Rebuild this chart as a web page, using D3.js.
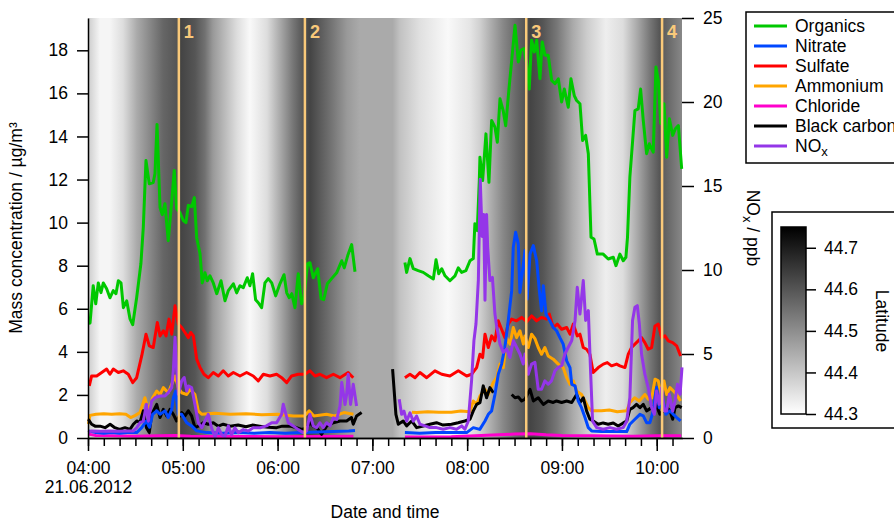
<!DOCTYPE html>
<html>
<head>
<meta charset="utf-8">
<script src="https://cdn.jsdelivr.net/npm/d3@7"></script>
<style>
  body { margin: 0; background: #fff; }
  text { font-family: "Liberation Sans", Arial, sans-serif; }
</style>
</head>
<body>
<svg id="chart" width="894" height="524"></svg>
<script>
// minutes after 04:00 on 21.06.2012, value; null = gap in the record
const organics = [[0.5,5.3],[1.3,5.35],[3.3,7.07],[4.9,6.23],[6.5,7.2],[8.2,6.75],[9.7,7.2],[11.8,6.93],[13.9,6.51],[16,6.84],[17.7,6.7],[19.2,7.3],[20.9,7.2],[22.4,6.05],[24.5,6.37],[26.6,5.53],[28.3,5.26],[30.8,6.51],[33.5,8.1],[35,9.77],[36.7,12.88],[38.8,11.8],[41.3,11.86],[42.4,12.28],[43.7,14.56],[45.6,10.7],[47,10.37],[48.7,10.88],[50.8,9.16],[53,11.0],[54.6,12.42],[56.1,10.65],[58.2,10.47],[60.3,10.1],[62,10.0],[63.5,10.8],[65.6,10.74],[67.3,11.16],[68.8,9.3],[70.9,8.56],[72.3,7.2],[74,7.67],[75.5,7.3],[77.2,7.53],[79.3,7.2],[81.5,6.7],[84.2,7.3],[86.7,6.37],[88.8,6.84],[92,7.16],[94.1,6.74],[96.2,7.07],[98.3,6.98],[100.8,7.44],[102.5,7.07],[104.2,7.63],[106.1,6.42],[107.8,6.28],[109.9,6.05],[112,7.2],[114.1,7.4],[116.3,7.2],[118.8,6.6],[121.5,7.16],[124.1,7.58],[125.8,6.74],[127.4,6.51],[129,6.7],[131,6.05],[133.1,7.63],[135.2,6.23],[136.7,6.51],[139,8.1],[140.5,8.14],[142.6,7.44],[145.4,7.86],[147.5,6.47],[149.2,6.42],[151.5,7.16],[154.2,7.4],[157.4,7.67],[160.6,8.23],[162.2,7.9],[164.4,8.47],[166.9,8.98],[169,7.72],
  null,
  [200.6,8.15],[201.7,7.69],[203.8,8.33],[205.9,7.86],[209,7.77],[212.2,7.69],[215.4,7.53],[218.6,7.38],[220.3,8.28],[222,7.63],[223.9,7.86],[226,7.53],[229.1,7.3],[232.3,7.53],[234.4,7.9],[236.5,7.69],[239.2,7.77],[241.8,8.23],[243.9,8.33],[244.9,9.95],[246.4,9.63],[247.7,11.95],[248.1,13.04],[249.8,11.95],[251.9,14.12],[253.8,11.87],[255.5,14.74],[257.6,14.43],[259.1,13.73],[260.8,15.75],[262.8,15.2],[264.4,14.5],[266.6,16.3],[268.2,17.53],[270.3,19.16],[272.4,17.46],[274,18.0],[276,18.08],[277.7,17.38],[279.3,16.2],[280.8,18.47],[282.5,17.92],[284,18.47],[286.1,16.68],[287.5,18.39],[289.3,17.77],[291.3,17.77],[293.5,16.6],[295.6,16.45],[297.7,16.68],[299.8,15.6],[301.5,16.2],[304,15.36],[305.7,16.68],[307.8,15.9],[309.3,15.67],[311.4,15.52],[313.1,13.81],[315,14.05],[316.7,13.2],[318.4,9.32],[320.3,9.24],[322.4,8.54],[326.1,8.54],[329.3,8.31],[332.5,8.39],[334.2,8.0],[336.7,8.54],[338.8,8.23],[340.5,8.39],[341.5,9.32],[343,12.1],[346.2,15.2],[348.3,15.28],[349.8,16.2],[351.5,14.74],[353.6,13.2],[355.3,13.66],[357.8,13.27],[359.5,17.22],[361,16.6],[362.5,14.6],[364.6,15.52],[366.3,13.04],[368,14.82],[370.1,14.05],[371.8,14.36],[373.7,14.51],[375.8,12.5]];

const nitrate = [[0.3,0.33],[5,0.25],[10,0.22],[15,0.25],[20,0.22],[25,0.25],[30.8,0.25],[34,0.48],[37,0.79],[39,0.5],[40.9,1.1],[43.5,1.26],[45.6,1.1],[48.7,1.26],[50.8,0.95],[53,1.33],[54,1.87],[55.5,2.18],[57.2,1.1],[59.3,1.1],[62.5,0.71],[65.6,0.56],[68.8,0.33],[75,0.25],[85,0.22],[95,0.25],[105,0.22],[115,0.25],[125,0.22],[135,0.25],[145,0.28],[155,0.3],[165,0.33],[169,0.35],
  null,
  [200.6,0.25],[210,0.22],[220,0.25],[230,0.25],[239.7,0.25],[243.9,0.48],[248,0.4],[251.3,0.79],[253.4,1.1],[255.5,1.26],[257.6,2.02],[259.7,2.96],[261.8,3.43],[263.9,4.2],[266,5.44],[268.2,6.84],[269.2,8.85],[270.7,9.55],[272.4,9.0],[273.4,6.76],[275.1,7.77],[276.6,8.7],[278,6.45],[279.8,8.54],[281.9,8.93],[284,8.23],[285.7,6.84],[287.1,5.9],[288.2,7.07],[289.9,5.75],[292.4,5.44],[294.5,5.13],[296.6,4.98],[298.7,4.66],[300.8,4.36],[303,3.58],[305.1,3.27],[306.2,2.49],[308.3,2.42],[310.3,1.72],[312.4,1.41],[314.6,0.95],[316.7,0.48],[318.8,0.33],[325,0.3],[333,0.3],[341,0.3],[343,0.64],[346.2,0.87],[349.4,1.1],[351.5,1.03],[353.6,0.71],[355.7,0.71],[357.8,1.26],[359.9,2.34],[361.6,1.41],[363.7,1.87],[365.8,1.1],[368.4,1.26],[370.5,1.1],[372.6,0.95],[375.1,0.79]];

const sulfate = [[0.8,2.42],[2.3,2.88],[5.5,2.88],[8.7,3.04],[11.8,3.2],[13.9,2.96],[16,3.2],[19.2,3.04],[22.3,3.12],[25.5,2.96],[28.3,2.57],[30.8,2.8],[34,3.81],[36.7,4.82],[38.8,4.28],[41.3,4.2],[43.9,5.36],[45.6,4.74],[47.7,4.98],[49.4,4.74],[51.3,5.52],[53,4.82],[55.1,6.14],[57.2,5.29],[59.3,5.13],[61.4,4.9],[63.5,4.66],[65,4.9],[66.7,4.74],[68.8,3.66],[70.9,3.27],[73.4,2.96],[76.1,2.8],[79.3,3.04],[82.5,2.88],[85.6,3.12],[88.8,2.88],[92,3.04],[96.2,2.88],[100.4,3.04],[104.6,2.88],[107.8,2.65],[111,2.96],[115.2,2.88],[119.4,2.96],[122.6,2.8],[125.8,2.57],[128.9,2.88],[133.1,2.96],[137.3,2.96],[140.5,3.12],[143.7,2.88],[146.8,2.96],[151,2.8],[155.3,2.96],[159.5,2.8],[164.7,3.04],[167.9,2.8],
  null,
  [200.6,2.8],[203.8,2.96],[207,2.8],[210.1,3.04],[214.4,2.8],[219.6,3.12],[223.9,2.96],[229.1,2.88],[234.4,3.12],[239.7,2.88],[242.8,2.96],[246,3.27],[248.1,3.89],[249.8,3.73],[251.3,4.82],[253.4,4.2],[255.5,4.74],[257.6,4.51],[259.7,5.44],[261.8,5.05],[263.9,4.66],[266,5.29],[268.2,5.52],[271.3,5.44],[274.5,5.6],[277.7,5.4],[280.8,5.67],[284,5.44],[287.1,5.6],[290.3,5.52],[292,5.75],[294.5,5.13],[297,5.29],[299.8,5.05],[303,5.13],[305.1,4.82],[307.2,5.29],[309.7,4.74],[311.4,4.82],[313.5,4.2],[315.6,4.12],[317.7,3.89],[319.8,3.04],[323,3.27],[326.2,3.43],[328.7,3.5],[331.4,3.35],[334.6,3.43],[336.7,3.35],[339.9,3.27],[342,3.89],[344.1,4.2],[346.2,4.36],[348.3,4.51],[350.4,4.66],[352.5,4.43],[354.6,4.12],[356.8,4.2],[358.9,5.2],[361,5.29],[363.1,4.66],[365.2,4.74],[367.3,4.51],[370.1,4.43],[372.6,4.28],[375.1,3.81]];

const ammonium = [[0.3,0.65],[1.2,1.05],[5,1.1],[10,1.13],[15,1.1],[20,1.13],[24,1.1],[27,0.95],[30,1.05],[32.9,1.18],[36,1.87],[38.2,1.26],[40.9,1.87],[43.5,2.18],[45.6,2.02],[47.7,2.34],[50.8,2.1],[53,2.49],[55.1,2.88],[57.2,2.34],[59.3,2.1],[62.5,2.02],[64.6,2.26],[67.7,2.02],[69.8,1.26],[72,1.1],[80,1.15],[90,1.1],[100,1.13],[110,1.08],[120,1.1],[130,1.02],[137,1.02],[140,1.26],[143,1.02],[151,1.1],[156,1.02],[162,1.18],[168,1.1],
  null,
  [205,1.2],[208,1.18],[215,1.22],[222,1.2],[230,1.2],[236,1.25],[241.8,1.22],[243.9,1.72],[246,1.56],[248.1,1.95],[251.3,2.26],[253.4,2.02],[256.5,2.57],[258.7,2.8],[260.8,3.43],[262.9,3.27],[265,4.66],[267.1,4.36],[269.2,5.13],[271.3,4.66],[273.4,4.98],[275.6,4.36],[276.6,4.74],[278.7,4.2],[280.8,4.82],[283,4.6],[285,4.2],[287.1,3.89],[289.2,4.2],[291.3,3.81],[294.5,3.66],[297.7,3.43],[300.8,3.27],[303,2.8],[305.1,2.49],[307.2,2.65],[309.3,2.18],[312.4,2.02],[314.6,1.72],[316.7,1.41],[318.8,1.26],[325,1.26],[330,1.3],[335,1.22],[341,1.26],[343,1.64],[346,1.87],[349,1.72],[352.5,2.02],[354.6,1.8],[356.8,1.85],[358.9,2.73],[361,2.65],[363.1,1.87],[364.6,2.65],[366.3,2.02],[368.4,2.34],[370.5,2.18],[372.6,2.02],[375.1,1.72]];

const chloride = [[0.3,0.18],[5,0.12],[15,0.1],[30,0.08],[45,0.1],[55,0.12],[65,0.08],[90,0.07],[120,0.06],[150,0.07],[168,0.08],
  null,
  [200.6,0.05],[230,0.06],[245,0.1],[260,0.15],[270,0.18],[280,0.2],[290,0.15],[300,0.12],[320,0.1],[345,0.08],[360,0.1],[375.5,0.1]];

const blackCarbon = [[0.2,0.87],[2.3,0.64],[4.5,0.55],[7.6,0.55],[10.8,0.48],[14,0.64],[17,0.48],[20,0.4],[23.4,0.48],[26.6,0.4],[28.7,0.64],[30.8,0.79],[32.9,0.72],[35,1.26],[37,0.48],[38.8,0.25],[40.3,1.1],[43.5,1.56],[45.6,0.95],[47.7,1.33],[49.8,1.03],[51.9,1.33],[54,1.1],[56.1,0.79],[59.3,1.18],[61.4,1.03],[63.5,1.26],[65.6,1.03],[67.7,0.48],[69.8,0.55],[73,0.71],[76.1,0.64],[79.3,0.71],[82.5,0.55],[85.6,0.64],[90,0.55],[95,0.6],[100,0.52],[104,0.6],[108.6,0.55],[114,0.5],[119.4,0.48],[123,0.55],[127.8,0.55],[131,0.5],[135.2,0.4],[138,0.45],[140.5,0.71],[142.6,0.55],[144.7,0.48],[147.9,0.17],[151,0.55],[155.3,0.71],[159.5,0.79],[163.7,0.79],[166.8,0.95],[167.9,0.64],[170,1.02],[173.2,1.18],
  null,
  [192.8,3.2],[194.9,1.1],[196.4,0.64],[199.5,0.79],[201.7,0.56],[204.9,0.79],[208,0.48],[212.2,0.56],[216.4,0.64],[220.6,0.71],[224.8,0.6],[230.1,0.64],[234.3,0.71],[238.5,0.79],[241.8,0.87],[243.9,1.26],[246,1.56],[248.1,1.64],[250.2,2.42],[252.3,1.87],[254.4,2.34],[256.6,2.1],
  null,
  [268.2,2.02],[270.3,1.87],[272.4,1.9],[274.5,1.72],[276.6,1.8],[279.8,2.26],[281.9,1.72],[285,1.87],[288.2,1.56],[291.3,1.72],[294.5,1.65],[296.6,1.72],[299.8,1.65],[303,1.72],[306.2,1.65],[309.3,2.02],[311.4,1.64],[313.5,1.87],[315.6,1.26],[317.7,0.87],[319.8,0.79],[323,0.64],[326.1,0.7],[329.3,0.64],[332.5,0.7],[335.6,0.56],[338.8,0.7],[341,0.79],[343,1.33],[345,1.41],[347.2,1.56],[349.4,1.41],[351.5,1.56],[353.6,1.26],[356.8,1.41],[359.5,1.56],[362,1.1],[364.2,1.26],[366.3,1.41],[368.4,1.26],[370.1,0.87],[371.6,1.41],[373.7,1.49],[375.8,1.41]];

// NOx in ppb (right axis)
const nox = [[0.2,0.32],[2,0.42],[8,0.4],[14,0.42],[20,0.4],[25,0.42],[28.7,0.42],[30.8,0.61],[32.9,0.91],[35,1.0],[37,2.01],[38.2,1.0],[40.3,2.2],[42.4,2.4],[45.6,2.5],[48.7,2.5],[50.8,2.7],[53,3.0],[54,4.0],[55.1,6.0],[56.1,4.1],[57.2,2.6],[59.3,3.4],[60.9,3.6],[62.5,2.8],[63.5,3.1],[65.6,3.0],[67.7,2.0],[69.8,0.91],[72,0.61],[74,1.0],[76.1,1.41],[78.2,0.61],[80.4,0.05],[82.5,0.61],[84.6,0.2],[86.7,0.1],[88.8,0.72],[90.9,0.2],[93,0.61],[95.1,0.32],[98.3,0.5],[101.5,0.42],[104.6,0.61],[108.9,0.61],[113,0.72],[116.3,0.91],[119.4,0.91],[122.6,1.41],[123.6,2.01],[125.3,1.41],[126.8,0.91],[129.9,0.72],[133.1,0.5],[136.3,0.32],[138.4,0.42],[140.5,1.41],[142.6,0.72],[144.7,0.61],[146.8,0.91],[148.9,0.61],[151,0.91],[153.2,0.72],[155.3,1.2],[157.4,1.1],[159.5,1.9],[160.6,3.3],[162.7,2.0],[163.7,2.6],[164.7,3.8],[166.2,2.0],[167.9,3.2],[170,1.9],
  null,
  [197,2.31],[198.5,1.41],[200,1.6],[201.7,1.0],[203.8,1.5],[205.9,1.0],[208,1.31],[210.1,0.82],[213.3,0.72],[216.4,0.62],[220.6,0.62],[224.8,0.52],[229.1,0.62],[233.3,0.52],[236.5,0.72],[238.6,0.52],[240.7,1.0],[242.8,3.4],[244.3,5.8],[245.6,6.8],[247.1,9.4],[248.3,15.4],[249.5,12.0],[250.5,13.3],[251.3,8.2],[252.3,13.3],[253,11.35],[254.4,9.37],[256,9.56],[257.6,7.38],[258.6,6.7],[260.8,5.59],[262.9,5.1],[265,5.3],[267.1,4.79],[269.2,5.79],[271.3,5.4],[273.4,5.0],[275.5,4.4],[276.6,5.0],[278.7,3.8],[280.8,4.4],[282.9,4.5],[285,2.9],[287.1,2.9],[289.2,3.4],[291.3,3.2],[293.4,3.4],[295.6,4.0],[297.7,4.2],[299.8,4.3],[301.9,5.0],[304,5.4],[306.2,5.8],[308.3,7.0],[309.7,8.97],[311.4,7.38],[313.5,9.37],[315,7.0],[316.7,7.58],[318.2,3.8],[319.4,1.0],[322,0.62],[326.1,0.52],[330.4,0.62],[334.6,0.52],[338.8,0.62],[341,1.0],[343,2.4],[344.7,7.0],[346.2,7.78],[347.7,7.88],[349,6.8],[350.4,5.0],[352.5,3.8],[354.6,3.0],[356.8,1.8],[358.5,1.41],[359.9,2.8],[361.6,2.0],[363.1,3.0],[364.8,1.6],[366.3,1.6],[368,2.6],[370.1,1.6],[371.6,2.2],[373.1,3.2],[374.8,2.6],[376,4.2]];

// latitude along the track, drawn as the grey background
const latTime = [0, 7.6, 13.9, 22.2, 31, 39.2, 47.5, 56.3, 58.9, 67.7, 74, 79.1, 94.3, 102.5, 113.3, 121.5, 129.7, 136.1, 140.5, 155, 163.9, 172, 192.8, 197.3, 210, 227.8, 241.8, 248.1, 254.4, 262.7, 271.5, 276.6, 279.8, 288, 296.8, 307, 315.8, 327.8, 338.6, 347.5, 355.7, 362, 366.5, 376];
const latValue = [44.39, 44.318, 44.318, 44.36, 44.45, 44.51, 44.57, 44.60, 44.63, 44.60, 44.55, 44.48, 44.36, 44.31, 44.36, 44.45, 44.54, 44.60, 44.63, 44.54, 44.48, 44.45, 44.45, 44.41, 44.355, 44.31, 44.346, 44.383, 44.44, 44.51, 44.57, 44.60, 44.63, 44.60, 44.54, 44.45, 44.39, 44.33, 44.36, 44.45, 44.54, 44.60, 44.57, 44.51];

const events = [[57.5, "1"], [137.3, "2"], [277.4, "3"], [363.4, "4"]];
const leftTicks = [0, 2, 4, 6, 8, 10, 12, 14, 16, 18];
const rightTicks = [0, 5, 10, 15, 20, 25];
const latTicks = [44.3, 44.4, 44.5, 44.6, 44.7];

const series = [
  { name: "Organics", data: organics, color: "#00c800", axis: "left" },
  { name: "Nitrate", data: nitrate, color: "#0048ff", axis: "left" },
  { name: "Sulfate", data: sulfate, color: "#ff0000", axis: "left" },
  { name: "Ammonium", data: ammonium, color: "#ffa500", axis: "left" },
  { name: "Chloride", data: chloride, color: "#ff00cc", axis: "left" },
  { name: "Black carbon", data: blackCarbon, color: "#000000", axis: "left" },
  { name: "NOx", data: nox, color: "#9436e8", axis: "right" }
];
const drawOrder = ["Organics", "Sulfate", "Ammonium", "Chloride", "Black carbon", "Nitrate", "NOx"];

const svg = d3.select("#chart");
const font = '"Liberation Sans", Arial, sans-serif';
const fs = 17.5;

const start = Date.UTC(2012, 5, 21, 4, 0);
const toDate = m => new Date(start + m * 60000);

const plotL = 88, plotR = 682, plotT = 18, plotB = 438;

const x = d3.scaleUtc().domain([toDate(0), toDate(376)]).range([plotL, plotR]);
const yL = d3.scaleLinear().domain([0, 19.5]).range([plotB, plotT]);
const yR = d3.scaleLinear().domain([0, 25]).range([plotB, plotT]);
const grey = d3.scaleLinear().domain([44.3, 44.75]).range(["#ffffff", "#000000"]);

const defs = svg.append("defs");

// background gradient from latitude
const bg = defs.append("linearGradient")
  .attr("id", "latBg")
  .attr("gradientUnits", "userSpaceOnUse")
  .attr("x1", plotL).attr("x2", plotR).attr("y1", 0).attr("y2", 0);
bg.selectAll("stop")
  .data(latTime.map((t, i) => [t, latValue[i]]))
  .join("stop")
  .attr("offset", d => (x(toDate(d[0])) - plotL) / (plotR - plotL))
  .attr("stop-color", d => grey(d[1]));

svg.append("rect")
  .attr("x", plotL).attr("y", plotT)
  .attr("width", plotR - plotL).attr("height", plotB - plotT)
  .attr("fill", "url(#latBg)");

// lines
const lineL = d3.line().defined(d => d != null).x(d => x(toDate(d[0]))).y(d => yL(d[1]));
const lineR = d3.line().defined(d => d != null).x(d => x(toDate(d[0]))).y(d => yR(d[1]));

drawOrder.forEach(n => {
  const s = series.find(d => d.name === n);
  svg.append("path")
    .datum(s.data)
    .attr("fill", "none")
    .attr("stroke", s.color)
    .attr("stroke-width", 3)
    .attr("stroke-linejoin", "round")
    .attr("d", s.axis === "left" ? lineL : lineR);
});

// event markers
const ev = svg.append("g").selectAll("g").data(events).join("g");
ev.append("line")
  .attr("x1", d => x(toDate(d[0]))).attr("x2", d => x(toDate(d[0])))
  .attr("y1", plotT).attr("y2", plotB)
  .attr("stroke", "#f9c97a").attr("stroke-width", 2.5);
ev.append("text")
  .attr("x", d => x(toDate(d[0])) + 5).attr("y", 38)
  .attr("fill", "#f9c97a")
  .attr("font-size", 18).attr("font-weight", "bold")
  .text(d => d[1]);

// axes
function styleAxis(g) {
  g.attr("font-family", font).attr("font-size", fs);
  g.selectAll("text").attr("fill", "#000");
  g.selectAll("line, path").attr("stroke", "#000").attr("stroke-width", 1.5);
}

svg.append("g")
  .attr("transform", `translate(${plotL},0)`)
  .call(d3.axisLeft(yL).tickValues(leftTicks).tickSize(11).tickSizeOuter(0).tickPadding(9))
  .call(styleAxis);

svg.append("g")
  .attr("transform", `translate(${plotR},0)`)
  .call(d3.axisRight(yR).tickValues(rightTicks).tickSize(12).tickSizeOuter(0).tickPadding(9))
  .call(styleAxis)
  .call(g => g.select(".domain").remove());

svg.append("g")
  .attr("transform", `translate(0,${plotB})`)
  .call(d3.axisBottom(x).ticks(d3.utcMinute.every(10)).tickSize(8).tickSizeOuter(0).tickFormat(""))
  .call(styleAxis);

const xAxis = svg.append("g")
  .attr("transform", `translate(0,${plotB})`)
  .call(d3.axisBottom(x).ticks(d3.utcHour.every(1)).tickSize(13).tickSizeOuter(0).tickPadding(11)
    .tickFormat(d3.utcFormat("%H:%M")))
  .call(styleAxis);
xAxis.select(".tick text")
  .append("tspan").attr("x", 0).attr("dy", 19).text("21.06.2012");

// axis titles
svg.append("text")
  .attr("transform", `translate(22,${(plotT + plotB) / 2}) rotate(-90)`)
  .attr("text-anchor", "middle").attr("font-size", fs)
  .text("Mass concentration / µg/m³");

const noxTitle = svg.append("text")
  .attr("transform", `translate(747,${(plotT + plotB) / 2}) rotate(90)`)
  .attr("text-anchor", "middle").attr("font-size", fs);
noxTitle.append("tspan").text("NO");
noxTitle.append("tspan").attr("font-size", 13).attr("dy", 4).text("x");
noxTitle.append("tspan").attr("dy", -4).text(" / ppb");

svg.append("text")
  .attr("x", (plotL + plotR) / 2).attr("y", 518)
  .attr("text-anchor", "middle").attr("font-size", fs)
  .text("Date and time");

// legend
const legend = svg.append("g");
legend.append("rect")
  .attr("x", 746).attr("y", 12).attr("width", 170).attr("height", 151)
  .attr("fill", "#fff").attr("stroke", "#000").attr("stroke-width", 1.5);
const item = legend.selectAll("g.item").data(series).join("g")
  .attr("class", "item")
  .attr("transform", (d, i) => `translate(0,${26 + i * 20})`);
item.append("line")
  .attr("x1", 754).attr("x2", 787)
  .attr("stroke", d => d.color).attr("stroke-width", 3);
item.append("text")
  .attr("x", 795).attr("y", 6).attr("font-size", fs)
  .each(function (d) {
    const t = d3.select(this);
    if (d.name === "NOx") {
      t.append("tspan").text("NO");
      t.append("tspan").attr("font-size", 13).attr("dy", 4).text("x");
    } else {
      t.text(d.name);
    }
  });

// colour scale box
const cb = svg.append("g");
cb.append("rect")
  .attr("x", 772).attr("y", 212).attr("width", 140).attr("height", 216)
  .attr("fill", "#fff").attr("stroke", "#000").attr("stroke-width", 1.5);

const latY = d3.scaleLinear().domain([44.3, 44.75]).range([414, 227]);
const cbGrad = defs.append("linearGradient")
  .attr("id", "latBar")
  .attr("gradientUnits", "userSpaceOnUse")
  .attr("x1", 0).attr("x2", 0).attr("y1", latY(44.3)).attr("y2", latY(44.75));
cbGrad.selectAll("stop")
  .data(latY.domain())
  .join("stop")
  .attr("offset", (d, i) => i)
  .attr("stop-color", d => grey(d));

cb.append("rect")
  .attr("x", 781).attr("y", latY(44.75))
  .attr("width", 25).attr("height", latY(44.3) - latY(44.75))
  .attr("fill", "url(#latBar)").attr("stroke", "#000").attr("stroke-width", 1.5);

cb.append("g")
  .attr("transform", "translate(806,0)")
  .call(d3.axisRight(latY).tickValues(latTicks).tickSize(10).tickPadding(8).tickFormat(d3.format(".1f")))
  .call(styleAxis)
  .call(g => g.select(".domain").remove());

cb.append("text")
  .attr("transform", "translate(876,321) rotate(90)")
  .attr("text-anchor", "middle").attr("font-size", fs)
  .text("Latitude");
</script>
</body>
</html>
